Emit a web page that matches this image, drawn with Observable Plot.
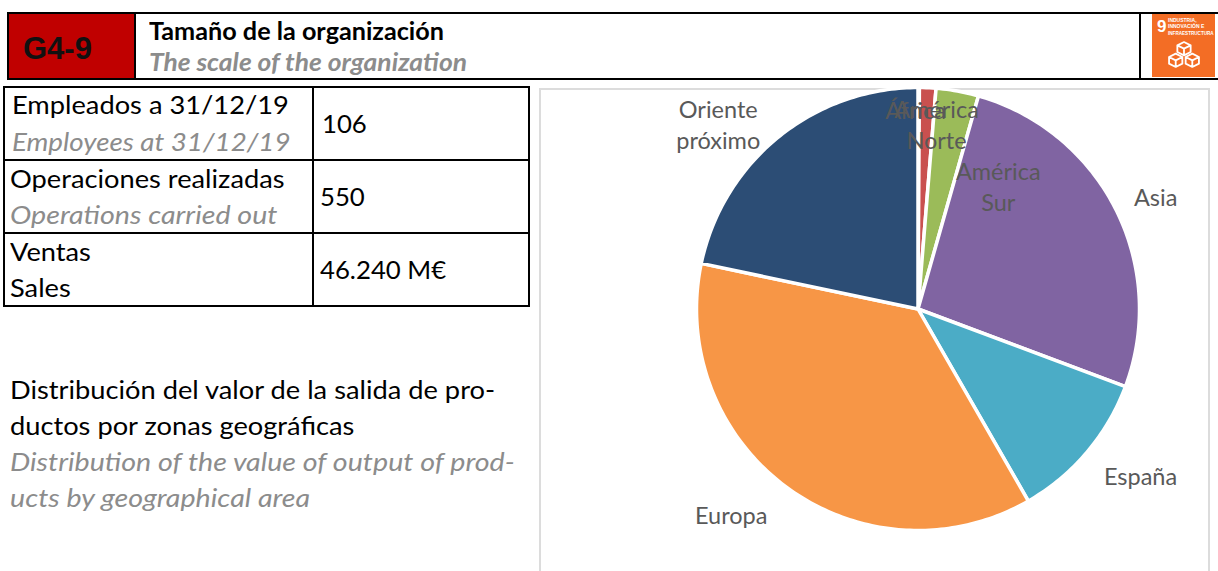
<!DOCTYPE html>
<html lang="es">
<head>
<meta charset="utf-8">
<script src="https://cdn.jsdelivr.net/npm/d3@7"></script>
<script src="https://cdn.jsdelivr.net/npm/@observablehq/plot@0.6"></script>
<style>
html,body{margin:0;padding:0;background:#fff;}
#page{position:relative;width:1218px;height:571px;overflow:hidden;font-family:Lato,"Open Sans",sans-serif;color:#000;}
.a{position:absolute;white-space:nowrap;line-height:1;transform-origin:0 50%;}
.box{position:absolute;background:#000;}
.en{color:#8c8c8c;font-style:italic;}
.t{font-size:25px;transform:scaleX(1.09);}
.t.en{transform:scaleX(1.145);}
.t.n{transform:scaleX(1.03);}
#chart{position:absolute;left:541px;top:90px;width:664px;height:481px;}
#frame{position:absolute;left:538.5px;top:87.5px;width:667px;height:500px;border:2.5px solid #dcdcdc;box-sizing:content-box;}
#chart svg{display:block;background:transparent;}
</style>
</head>
<body>
<div id="page">
  <!-- header -->
  <div class="box" style="left:7px;top:12px;width:1211px;height:2px"></div>
  <div class="box" style="left:7px;top:78px;width:1211px;height:2px"></div>
  <div class="box" style="left:7px;top:12px;width:2px;height:68px"></div>
  <div style="position:absolute;left:9px;top:14px;width:125px;height:64px;background:#c00000"></div>
  <div class="box" style="left:134px;top:12px;width:2px;height:68px"></div>
  <div class="box" style="left:1139px;top:12px;width:2px;height:68px"></div>
  <div class="a" style="left:23px;top:31px;font:bold 31px 'Liberation Sans',Arial,sans-serif;color:#111">G4-9</div>
  <div class="a" style="left:149px;top:19px;font-size:24px;font-weight:700;transform:scaleX(1.05)">Tamaño de la organización</div>
  <div class="a en" style="left:149px;top:50px;font-size:24px;font-weight:700;transform:scaleX(1.10)">The scale of the organization</div>
  <svg style="position:absolute;left:1152px;top:14px" width="63" height="63" viewBox="0 0 63 63">
    <rect width="63" height="63" fill="#f36d25"/>
    <text x="5" y="18" font-family="Liberation Sans" font-weight="700" font-size="17" fill="#fff">9</text>
    <text x="16" y="8" font-family="Liberation Sans" font-weight="700" font-size="5" fill="#fff">INDUSTRIA,</text>
    <text x="16" y="14" font-family="Liberation Sans" font-weight="700" font-size="5" fill="#fff">INNOVACIÓN E</text>
    <text x="16" y="21" font-family="Liberation Sans" font-weight="700" font-size="4.6" fill="#fff">INFRAESTRUCTURA</text>
    <g fill="none" stroke="#fff" stroke-width="2.2" stroke-linejoin="round" transform="translate(32 40.5) scale(.83) translate(-32 -40)">
      <path d="M32 25l8 4v8l-8 4-8-4v-8zM24 29l8 4 8-4M32 33v8"/>
      <path d="M22 39l8 4v8l-8 4-8-4v-8zM14 43l8 4 8-4M22 47v8"/>
      <path d="M42 39l8 4v8l-8 4-8-4v-8zM34 43l8 4 8-4M42 47v8"/>
    </g>
  </svg>
  <!-- table -->
  <div class="box" style="left:3px;top:86px;width:527px;height:2px"></div>
  <div class="box" style="left:3px;top:159px;width:527px;height:2px"></div>
  <div class="box" style="left:3px;top:232px;width:527px;height:2px"></div>
  <div class="box" style="left:3px;top:305px;width:527px;height:2px"></div>
  <div class="box" style="left:3px;top:86px;width:2px;height:221px"></div>
  <div class="box" style="left:312px;top:86px;width:2px;height:221px"></div>
  <div class="box" style="left:528px;top:86px;width:2px;height:221px"></div>
  <div class="a t" style="left:12px;top:92px">Empleados a 31/12/19</div>
  <div class="a t en" style="left:12px;top:129px;transform:scaleX(1.11)">Employees at 31/12/19</div>
  <div class="a t n" style="left:322px;top:111px">106</div>
  <div class="a t" style="left:10px;top:166px">Operaciones realizadas</div>
  <div class="a t en" style="left:10px;top:202px">Operations carried out</div>
  <div class="a t n" style="left:320px;top:184px">550</div>
  <div class="a t" style="left:10px;top:239px">Ventas</div>
  <div class="a t" style="left:10px;top:275px">Sales</div>
  <div class="a t n" style="left:320px;top:257px">46.240 M€</div>
  <!-- paragraph -->
  <div class="a t" style="left:10px;top:377px">Distribución del valor de la salida de pro-</div>
  <div class="a t" style="left:10px;top:413px">ductos por zonas geográficas</div>
  <div class="a t en" style="left:10px;top:449px">Distribution of the value of output of prod-</div>
  <div class="a t en" style="left:10px;top:485px">ucts by geographical area</div>
  <!-- chart -->
  <div id="frame"></div>
  <div id="chart"></div>
</div>
<script>
const categories = ["África", "América\nNorte", "América\nSur", "Asia", "España", "Europa", "Oriente\npróximo"];
const shares = [0.1, 1.2, 3.1, 26.3, 11.0, 36.6, 21.7];
const sliceColors = ["#4f81bd", "#c9504f", "#9bbb59", "#8064a2", "#4bacc6", "#f79646", "#2c4d75"];
// label placement relative to each slice: radius factor and turn (degrees) from its mid angle
const labelRadius = [0.896, 0.832, 0.657, 1.185, 1.26, 1.26, 1.224];
const labelTurn = [-0.9, 3.25, 23.2, 1.7, -3.2, 6, -8.4];

const total = d3.sum(shares);
let running = 0;
const outline = [];
const labels = [];
categories.forEach((name, i) => {
  const a0 = running / total * 360;
  running += shares[i];
  const a1 = running / total * 360;
  const rad = a => a * Math.PI / 180;
  const steps = Math.max(2, Math.ceil(a1 - a0));
  outline.push({name, x: 0, y: 0});
  for (let s = 0; s <= steps; ++s) {
    const a = rad(a0 + (a1 - a0) * s / steps);
    outline.push({name, x: Math.sin(a), y: Math.cos(a)});
  }
  outline.push({name, x: 0, y: 0});
  const m = rad((a0 + a1) / 2 + labelTurn[i]);
  labels.push({name, x: Math.sin(m) * labelRadius[i], y: Math.cos(m) * labelRadius[i]});
});

const R = 221.5, W = 664, H = 481, cx = 376.5, cy = 218.5;
const chart = Plot.plot({
  width: W, height: H,
  margin: 0,
  style: {background: "transparent", overflow: "visible"},
  x: {domain: [-cx / R, (W - cx) / R], range: [0, W], axis: null},
  y: {domain: [-(H - cy) / R, cy / R], range: [H, 0], axis: null},
  color: {domain: categories, range: sliceColors, type: "ordinal"},
  marks: [
    Plot.line(outline, {x: "x", y: "y", z: "name", fill: "name", stroke: "#fff", strokeWidth: 3.5, strokeLinejoin: "round", curve: "linear-closed"}),
    Plot.text(labels, {x: "x", y: "y", dy: -2, text: "name", fill: "#595959", fontSize: 23.5, lineHeight: 1.33, fontFamily: "Lato, sans-serif", textAnchor: "middle"})
  ]
});
document.getElementById("chart").appendChild(chart);
</script>
</body>
</html>
